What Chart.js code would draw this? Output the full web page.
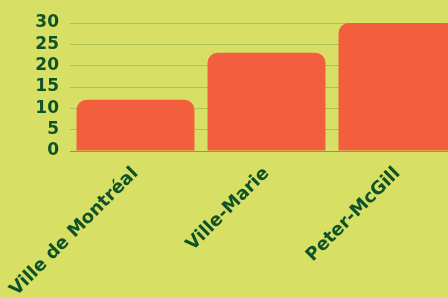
<!DOCTYPE html>
<html>
<head>
<meta charset="utf-8">
<script src="https://cdn.jsdelivr.net/npm/chart.js@4/dist/chart.umd.min.js"></script>
<style>
  html, body { margin: 0; padding: 0; background: #d7e064; overflow: hidden; }
  #wrap { position: relative; width: 463px; height: 297px; }
</style>
</head>
<body>
<div id="wrap"><canvas id="myChart"></canvas></div>
<script>
var categories = ['Ville de Montréal', 'Ville-Marie', 'Peter-McGill'];
var values = [12, 23, 30];
var yTicks = [0, 5, 10, 15, 20, 25, 30];

var green = '#0f5228';

var ctx = document.getElementById('myChart').getContext('2d');
var myChart = new Chart(ctx, {
  type: 'bar',
  data: {
    labels: categories,
    datasets: [{
      data: values,
      backgroundColor: '#f25e3e',
      borderRadius: 10,
      barPercentage: 0.9,
      categoryPercentage: 1
    }]
  },
  options: {
    responsive: true,
    maintainAspectRatio: false,
    animation: false,
    layout: { padding: { top: 23, left: 0, right: 0, bottom: 0 } },
    plugins: {
      legend: { display: false },
      tooltip: { enabled: false }
    },
    scales: {
      x: {
        grid: { display: false },
        border: { color: '#7ea445' },
        afterFit: function(axis) {
          axis.height = 146;
          axis.paddingLeft = 0;
          axis.paddingRight = 0;
        },
        ticks: {
          color: green,
          minRotation: 45,
          maxRotation: 45,
          padding: 4,
          font: { family: 'DejaVu Sans', weight: 'bold', size: 18 }
        }
      },
      y: {
        min: yTicks[0],
        max: yTicks[yTicks.length - 1],
        afterBuildTicks: function(axis) {
          axis.ticks = yTicks.map(function(v) { return { value: v }; });
        },
        afterFit: function(axis) { axis.width = 70; },
        grid: { color: '#abc257', drawTicks: false },
        border: { display: false },
        ticks: {
          color: green,
          padding: 11,
          autoSkip: false,
          font: { family: 'DejaVu Sans', weight: 'bold', size: 17 }
        }
      }
    }
  }
});
</script>
</body>
</html>
